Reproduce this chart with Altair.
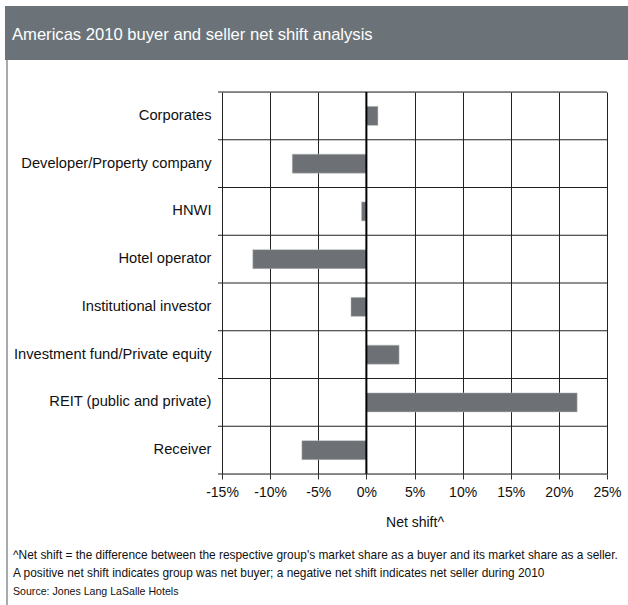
import altair as alt
import pandas as pd

categories = [
    "Corporates",
    "Developer/Property company",
    "HNWI",
    "Hotel operator",
    "Institutional investor",
    "Investment fund/Private equity",
    "REIT (public and private)",
    "Receiver",
]
net_shift = [1.2, -7.7, -0.5, -11.8, -1.6, 3.4, 21.9, -6.7]
x_ticks = [-15, -10, -5, 0, 5, 10, 15, 20, 25]

title_text = "Americas 2010 buyer and seller net shift analysis"
x_title = "Net shift^"
notes = [
    "^Net shift = the difference between the respective group's market share as a buyer and its market share as a seller.",
    "A positive net shift indicates group was net buyer; a negative net shift indicates net seller during 2010",
    "Source: Jones Lang LaSalle Hotels",
]

FONT = "Liberation Sans"
W, H = 385, 382
LEFT, TOP = 222, 92

df = pd.DataFrame({"category": categories, "value": net_shift})

yscale = alt.Scale(domain=categories, paddingInner=0, paddingOuter=0)
xscale = alt.Scale(domain=[-15, 25], nice=False)

yaxis = alt.Axis(title=None, labelFont=FONT, labelFontSize=14.7, labelColor="#111",
                 labelPadding=11, labelLimit=230, ticks=False, domain=False, grid=False)
xaxis = alt.Axis(values=x_ticks,
                 labelExpr="datum.value + '%'",
                 labelFont=FONT, labelFontSize=14, labelColor="#111",
                 labelPadding=6, labelOverlap=False, labelFlush=False,
                 tickSize=5, tickColor="#333",
                 grid=True, gridColor="#222", gridWidth=1,
                 domain=False,
                 title=x_title, titleFont=FONT, titleFontSize=14,
                 titleFontWeight="normal", titleColor="#111", titlePadding=16)

bars = alt.Chart(df).mark_bar(size=19, color="#6d7175", stroke="#b9bcbf", strokeWidth=0.5).encode(
    y=alt.Y("category:N", scale=yscale, sort=categories, axis=yaxis),
    x=alt.X("value:Q", scale=xscale, axis=xaxis),
    x2=alt.datum(0),
)

hlines = alt.Chart(df).mark_rule(color="#222", strokeWidth=1, yOffset=-H / 16).encode(
    y=alt.Y("category:N", scale=yscale, sort=categories, axis=yaxis),
    x=alt.value(-4),
    x2=alt.value(W),
)

zero = alt.Chart(pd.DataFrame({"z": [0]})).mark_rule(color="#000", strokeWidth=2).encode(
    x=alt.X("z:Q", scale=xscale, axis=xaxis),
    y=alt.value(0),
    y2=alt.value(H),
)

bottom = alt.Chart(pd.DataFrame({"z": [0]})).mark_rule(color="#222", strokeWidth=1).encode(
    x=alt.value(-4), x2=alt.value(W), y=alt.value(H)
)

header = alt.Chart(pd.DataFrame({"t": [title_text]})).mark_rect(color="#6b7378").encode(
    x=alt.value(5 - LEFT), x2=alt.value(628 - LEFT),
    y=alt.value(6 - TOP), y2=alt.value(60 - TOP),
)
header_text = alt.Chart(pd.DataFrame({"t": [title_text]})).mark_text(
    font=FONT, fontSize=16.6, color="white", align="left", baseline="middle"
).encode(text="t:N", x=alt.value(12 - LEFT), y=alt.value(35 - TOP))

left_border = alt.Chart(pd.DataFrame({"t": [0]})).mark_rule(color="#8a8f93", strokeWidth=1.5).encode(
    x=alt.value(7 - LEFT), y=alt.value(60 - TOP), y2=alt.value(605 - TOP)
)

note_layers = []
for txt, yy, fs in zip(notes, [555, 573, 592], [11.9, 11.9, 10.6]):
    note_layers.append(
        alt.Chart(pd.DataFrame({"t": [txt]})).mark_text(
            font=FONT, fontSize=fs, color="#111", align="left", baseline="middle"
        ).encode(text="t:N", x=alt.value(13 - LEFT), y=alt.value(yy - TOP))
    )

chart = alt.layer(
    header, header_text, left_border, hlines, bars, zero, bottom, *note_layers
).properties(
    width=W, height=H,
    autosize=alt.AutoSizeParams(type="none"),
    padding={"left": LEFT, "top": TOP, "right": 628 - LEFT - W, "bottom": 605 - TOP - H},
).configure_view(stroke=None).configure(background="white")

chart.save("out.html", embed_options={"renderer": "svg", "actions": False})
